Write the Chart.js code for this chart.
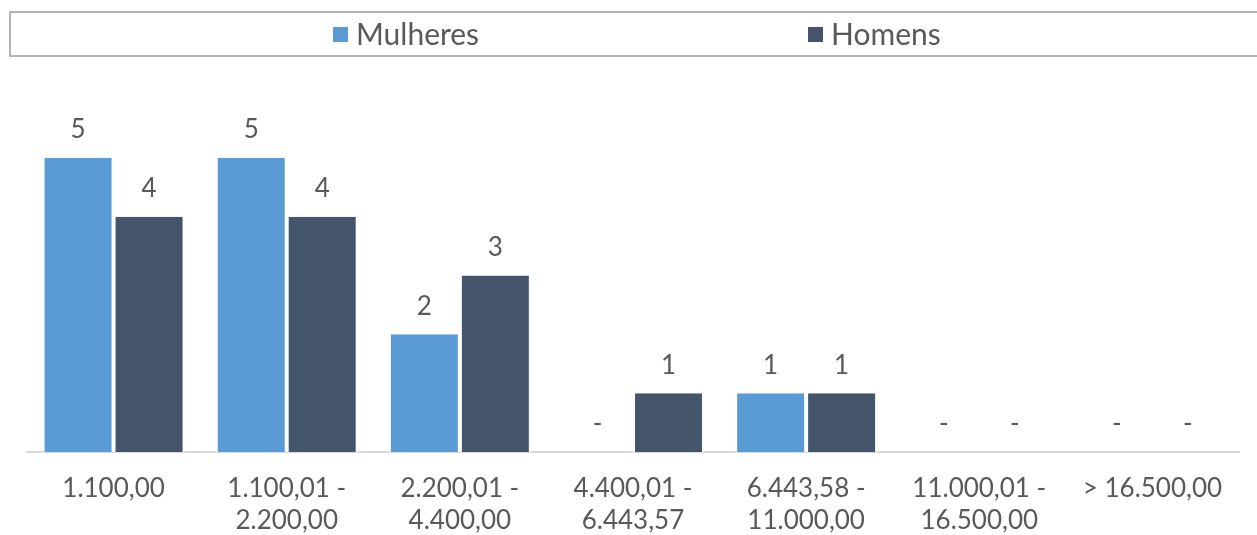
<!DOCTYPE html>
<html>
<head>
<meta charset="utf-8">
<script src="https://cdn.jsdelivr.net/npm/chart.js@4/dist/chart.umd.min.js"></script>
<style>
  html, body { margin: 0; padding: 0; background: #fff; }
  #wrap { width: 1257px; height: 535px; position: relative; }
</style>
</head>
<body>
<div id="wrap"><canvas id="salaryChart"></canvas></div>
<script>
// faixas salariais
const categories = [
    '1.100,00',
    ['1.100,01 -', '2.200,00'],
    ['2.200,01 -', '4.400,00'],
    ['4.400,01 -', '6.443,57'],
    ['6.443,58 -', '11.000,00'],
    ['11.000,01 -', '16.500,00'],
    '> 16.500,00'
];
const seriesNames = ['Mulheres', 'Homens'];
const mulheres = [5, 5, 2, 0, 1, 0, 0];
const homens = [4, 4, 3, 1, 1, 0, 0];
const seriesColors = ['#5b9bd5', '#44546a'];

const FONT = 'Lato, "Open Sans", sans-serif';
const TEXT_COLOR = '#595959';

// rótulos em cima das barras, "-" quando zero
const valueLabels = {
    id: 'valueLabels',
    afterDatasetsDraw(chart) {
        const ctx = chart.ctx;
        ctx.save();
        ctx.font = '26px ' + FONT;
        ctx.fillStyle = TEXT_COLOR;
        ctx.textAlign = 'center';
        ctx.textBaseline = 'middle';
        chart.data.datasets.forEach((ds, i) => {
            const meta = chart.getDatasetMeta(i);
            meta.data.forEach((bar, j) => {
                const v = ds.data[j];
                const txt = v === 0 ? '-' : String(v);
                ctx.fillText(txt, bar.x, bar.y - 28);
            });
        });
        ctx.restore();
    }
};

// legenda com moldura, estilo Excel
const boxedLegend = {
    id: 'boxedLegend',
    afterDraw(chart) {
        const ctx = chart.ctx;
        const w = chart.width;
        ctx.save();
        ctx.strokeStyle = '#b4b4b4';
        ctx.lineWidth = 2;
        ctx.strokeRect(10, 12, w + 10, 44);
        ctx.font = '30px ' + FONT;
        ctx.textBaseline = 'middle';
        const starts = [0.265, 0.643];
        chart.data.datasets.forEach((ds, i) => {
            const x = Math.round(w * starts[i]);
            ctx.fillStyle = ds.backgroundColor;
            ctx.fillRect(x, 27, 15, 15);
            ctx.fillStyle = TEXT_COLOR;
            ctx.fillText(ds.label, x + 23, 35);
        });
        ctx.restore();
    }
};

new Chart(document.getElementById('salaryChart'), {
    type: 'bar',
    data: {
        labels: categories,
        datasets: [
            { label: seriesNames[0], data: mulheres, backgroundColor: seriesColors[0] },
            { label: seriesNames[1], data: homens, backgroundColor: seriesColors[1] }
        ]
    },
    options: {
        responsive: true,
        maintainAspectRatio: false,
        animation: false,
        datasets: {
            bar: {
                categoryPercentage: 0.82,
                barPercentage: 1,
                borderColor: '#ffffff',
                borderWidth: { left: 2, right: 2, top: 0, bottom: 0 },
                borderSkipped: false
            }
        },
        layout: { padding: { left: 27, right: 18, top: 99, bottom: 0 } },
        plugins: {
            legend: { display: false },
            tooltip: { enabled: false }
        },
        scales: {
            x: {
                afterFit(scale) { scale.height = 83; },
                grid: { display: false, drawTicks: false },
                border: { color: '#d9d9d9', width: 2 },
                ticks: {
                    color: TEXT_COLOR,
                    font: { family: FONT, size: 26, lineHeight: 1.23 },
                    padding: 21,
                    maxRotation: 0,
                    autoSkip: false
                }
            },
            y: {
                display: false,
                min: 0,
                max: 6
            }
        }
    },
    plugins: [valueLabels, boxedLegend]
});
</script>
</body>
</html>
